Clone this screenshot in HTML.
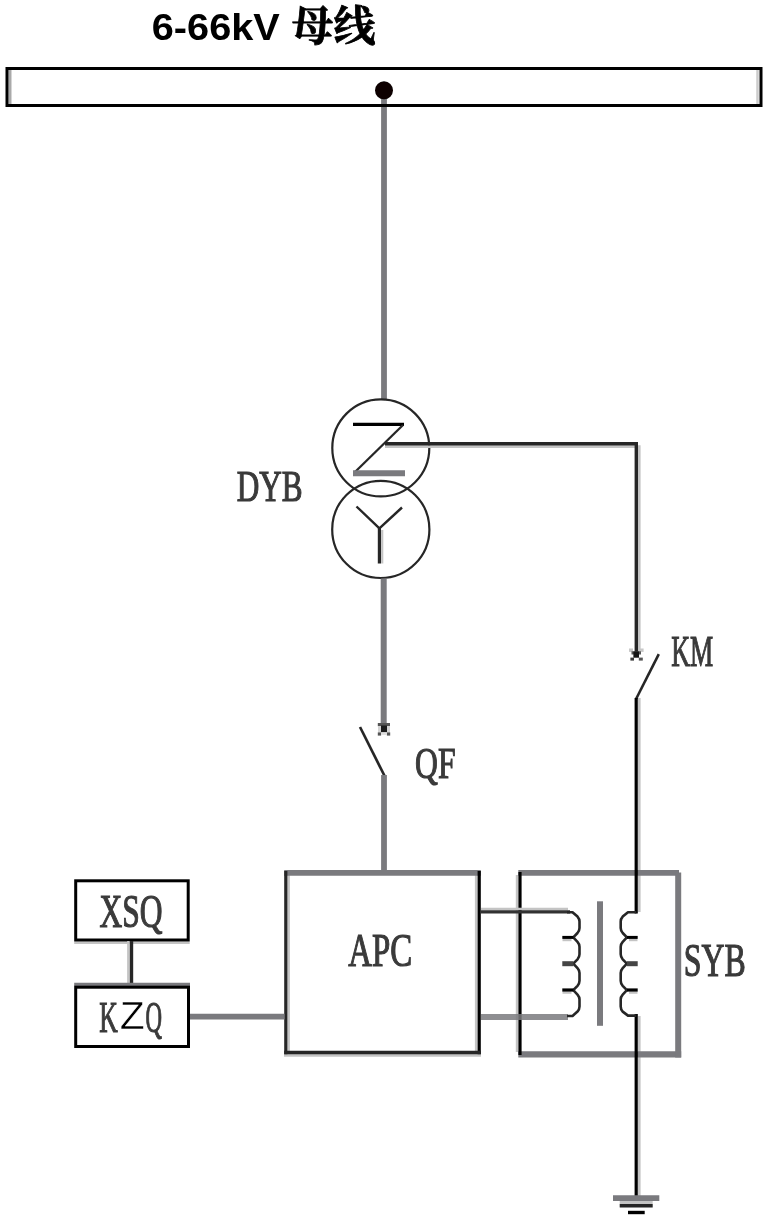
<!DOCTYPE html>
<html lang="zh">
<head>
<meta charset="utf-8">
<title>6-66kV 母线</title>
<style>
html,body{margin:0;padding:0;background:#fff;}
body{width:768px;height:1216px;overflow:hidden;position:relative;}
svg{position:absolute;left:0;top:0;display:block;}
.t{font-family:"Liberation Sans","Noto Sans CJK SC",sans-serif;font-weight:bold;fill:#000;}
.c{font-family:"Liberation Serif","Noto Serif CJK SC",serif;font-weight:bold;fill:#000;}
.l{font-family:"Liberation Serif","Noto Serif CJK SC",serif;fill:#3a3a3a;stroke:#3a3a3a;stroke-width:1.2;}
.g{stroke:#7a7a7e;fill:none;}
.d{stroke:#262626;fill:none;}
.k{stroke:#000;fill:none;}
.s{stroke:#c4c4c4;fill:none;}
</style>
</head>
<body>
<svg width="768" height="1216" viewBox="0 0 768 1216">
<defs>
<filter id="b" x="-5%" y="-5%" width="110%" height="110%"><feGaussianBlur stdDeviation="0.5"/></filter>
<filter id="a" x="-5%" y="-5%" width="110%" height="110%"><feGaussianBlur stdDeviation="0.3"/></filter>
</defs>
<rect width="768" height="1216" fill="#fff"/>

<!-- title -->
<g filter="url(#a)">
<text xml:space="preserve"><tspan class="t" x="151.8" y="40.3" font-size="37.2" textLength="128" lengthAdjust="spacingAndGlyphs">6-66kV</tspan><tspan class="t" font-size="8"> </tspan><tspan class="c" x="291.6" y="40.6" font-size="42" font-weight="900" stroke="#000" stroke-width="0.8" stroke-linejoin="round">母线</tspan></text>
</g>

<!-- bus bar -->
<g filter="url(#b)"><line class="g" x1="384" y1="95" x2="384" y2="399" stroke-width="5.8"/>
<circle cx="384" cy="90.3" r="9" fill="#0a0505"/></g>
<line x1="10" y1="70" x2="10" y2="104" stroke="#aaa" stroke-width="3"/>
<line x1="757.5" y1="70" x2="757.5" y2="104" stroke="#ccc" stroke-width="2.5"/>
<rect x="7" y="68.5" width="754" height="37" fill="none" stroke="#000" stroke-width="3"/>

<g filter="url(#b)">
<!-- main vertical -->
<!-- transformer DYB -->
<circle class="d" cx="380.8" cy="447.9" r="48.5" stroke-width="2.2"/>
<circle class="d" cx="380.8" cy="529.4" r="48.6" stroke-width="2.2"/>
<line class="k" x1="353" y1="424.4" x2="404" y2="424.4" stroke-width="3.2"/>
<line class="d" x1="403" y1="425" x2="355" y2="472" stroke-width="2.3"/>
<line class="g" x1="353" y1="473.2" x2="405" y2="473.2" stroke-width="6"/>
<path class="d" d="M356.5 506.5 L379.4 528.3 L402 507.5" stroke-width="2.4"/>
<line class="s" x1="382.2" y1="530" x2="382.2" y2="563.5" stroke-width="2.2"/>
<line class="d" x1="379.4" y1="528" x2="379.4" y2="563.5" stroke-width="3.2"/>

<!-- line from Z to right branch -->
<path class="s" d="M385 446.6 H639.3 V652" stroke-width="2.6"/>
<path class="d" d="M385 443.8 H636.3 V653" stroke-width="3.4" stroke-linejoin="miter"/>

<!-- KM switch -->
<rect x="629" y="648.5" width="4" height="3.4" fill="#c8c8c8"/>
<rect x="639.6" y="648.5" width="4" height="3.4" fill="#c8c8c8"/>
<rect x="631.5" y="651.3" width="9.5" height="3.2" fill="#555"/>
<rect x="633.4" y="651.5" width="5.6" height="6.2" fill="#161616"/>
<rect x="630.4" y="657.6" width="3.6" height="3" fill="#3c3c3c"/>
<rect x="638.8" y="657.6" width="4" height="3" fill="#555"/>
<line class="d" x1="658.8" y1="654.2" x2="636.3" y2="698.5" stroke-width="2.6"/>

<!-- below transformer to QF -->
<line class="g" x1="383.7" y1="578.5" x2="383.7" y2="725" stroke-width="6"/>
<rect x="377.8" y="723" width="12.2" height="3.2" fill="#555"/>
<rect x="378" y="726" width="3.2" height="6.4" fill="#d4d4d4"/>
<rect x="386.8" y="726" width="3.2" height="6.4" fill="#d4d4d4"/>
<rect x="381" y="725.5" width="6" height="6.8" fill="#1c1c1c"/>
<rect x="377.8" y="732.4" width="3.3" height="3.2" fill="#555"/>
<rect x="386.9" y="732.4" width="3.3" height="3.2" fill="#555"/>
<rect x="381.1" y="732.4" width="5.8" height="2.6" fill="#e0e0e0"/>
<line class="d" x1="360" y1="727" x2="384.6" y2="776" stroke-width="2.7"/>
<line class="g" x1="384" y1="775" x2="384" y2="871" stroke-width="5.8"/>

<!-- APC box -->
<rect x="284" y="870" width="197" height="185" fill="#fff"/>
<line class="s" x1="288.6" y1="875" x2="288.6" y2="1052" stroke-width="2.6"/>
<line class="s" x1="476.2" y1="875" x2="476.2" y2="1052" stroke-width="2.6"/>
<line class="s" x1="284" y1="1055.4" x2="481" y2="1055.4" stroke-width="2.6"/>
<line class="g" x1="284.2" y1="872.9" x2="480.8" y2="872.9" stroke-width="5.8"/>
<line class="d" x1="285.8" y1="871" x2="285.8" y2="1054.2" stroke-width="3.2"/>
<line class="k" x1="479.2" y1="871" x2="479.2" y2="1054.2" stroke-width="3.2"/>
<line class="d" x1="284.2" y1="1052.5" x2="480.8" y2="1052.5" stroke-width="3.4"/>

<!-- XSQ / KZQ -->
<line class="s" x1="74.2" y1="942.7" x2="189.7" y2="942.7" stroke-width="2.6"/>
<rect x="75.7" y="880.8" width="112.5" height="59.2" fill="#fff" stroke="#000" stroke-width="3"/>
<line class="s" x1="128.4" y1="941" x2="128.4" y2="986" stroke-width="2.6"/>
<line class="d" x1="131.5" y1="941" x2="131.5" y2="986" stroke-width="3.4"/>
<line class="g" x1="74.2" y1="984.3" x2="190" y2="984.3" stroke-width="3.2"/>
<rect x="75.7" y="987.2" width="112.8" height="59.3" fill="#fff" stroke="#000" stroke-width="3"/>
<line class="g" x1="190" y1="1016.6" x2="284.5" y2="1016.6" stroke-width="5.8"/>

<path class="s" d="M639.3 698 V912 M639.3 1016 V1197" stroke-width="2.6"/>
<!-- SYB box -->
<line class="s" x1="517" y1="875" x2="517" y2="1052" stroke-width="2.4"/>
<line class="g" x1="518.3" y1="872.9" x2="679" y2="872.9" stroke-width="5.8"/>
<line class="g" x1="518.3" y1="1054.4" x2="681.2" y2="1054.4" stroke-width="6.2"/>
<line class="g" x1="678.2" y1="872.6" x2="678.2" y2="1057.5" stroke-width="6"/>
<line class="k" x1="520" y1="872" x2="520" y2="1055" stroke-width="3.2"/>

<path class="k" d="M636.2 698 V913.5 M636.2 1014 V1197" stroke-width="3.2"/>

<!-- APC to coil connectors -->
<line class="s" x1="481" y1="909" x2="568" y2="909" stroke-width="2.6"/>
<line stroke="#303030" x1="481" y1="911.9" x2="570" y2="911.9" stroke-width="3.1"/>

<line class="g" x1="481" y1="1017" x2="568" y2="1017" stroke-width="5.8" opacity="0.85"/>

<!-- core -->
<line class="g" x1="600" y1="901.3" x2="600" y2="1025.8" stroke-width="6"/>

<!-- left coil -->
<path class="d" stroke-width="2.6" stroke-linejoin="round" d="M567 912.2 H572.5 L577.5 916.6 Q579.5 918.8 579.5 921.6 V928.0 Q579.5 930.8 577.5 933.0 L573.3 937.4 L577.5 941.8 Q579.5 944.0 579.5 946.8 V954.3 Q579.5 957.1 577.5 959.3 L573.3 963.7 L577.5 968.1 Q579.5 970.3 579.5 973.1 V980.8 Q579.5 983.6 577.5 985.8 L573.3 990.2 L577.5 994.6 Q579.5 996.8 579.5 999.6 V1006.6 Q579.5 1009.4 577.5 1011.6 L572.5 1016 H567"/>
<path class="s" stroke-width="2.4" d="M562.5 940 H571.5"/>
<path class="k" stroke-width="3" d="M562.3 937.4 H573.5"/>
<path stroke="#444" fill="none" stroke-width="5" d="M562.3 963.7 H573.5"/>
<path class="s" stroke-width="2.4" d="M562.5 992.6 H571.5"/>
<path class="k" stroke-width="3.2" d="M562.3 990 H573.5"/>

<!-- right coil -->
<path class="d" stroke-width="2.6" stroke-linejoin="round" d="M636.3 912.2 H628 L622.7 916.6 Q620.7 918.8 620.7 921.6 V928.0 Q620.7 930.8 622.7 933.0 L626.9 937.4 L622.7 941.8 Q620.7 944.0 620.7 946.8 V954.3 Q620.7 957.1 622.7 959.3 L626.9 963.7 L622.7 968.1 Q620.7 970.3 620.7 973.1 V980.8 Q620.7 983.6 622.7 985.8 L626.9 990.2 L622.7 994.6 Q620.7 996.8 620.7 999.6 V1006.6 Q620.7 1009.4 622.7 1011.6 L628 1015.6 H636.3"/>
<path class="s" stroke-width="2.4" d="M629 940 H637.5"/>
<path class="k" stroke-width="3" d="M627 937.4 H637.7"/>
<path stroke="#444" fill="none" stroke-width="5" d="M627 963.7 H637.7"/>
<path class="s" stroke-width="2.4" d="M629 992.6 H637.5"/>
<path class="k" stroke-width="3.2" d="M627 990 H637.7"/>

<!-- ground -->
<line class="g" x1="613" y1="1198.1" x2="659.3" y2="1198.1" stroke-width="5.8"/>
<line class="s" x1="619.7" y1="1202.5" x2="652.7" y2="1202.5" stroke-width="3"/>
<line class="d" x1="619.7" y1="1205.8" x2="652.7" y2="1205.8" stroke-width="3.6"/>
<line class="k" x1="628" y1="1212.5" x2="644.7" y2="1212.5" stroke-width="3.4"/>

<!-- labels -->
<text class="l" x="236.7" y="500.8" font-size="45" textLength="66" lengthAdjust="spacingAndGlyphs">DYB</text>
<text class="l" x="671.3" y="666.3" font-size="45" textLength="42" lengthAdjust="spacingAndGlyphs">KM</text>
<text class="l" x="415" y="777.5" font-size="44" textLength="40.5" lengthAdjust="spacingAndGlyphs">QF</text>
<text class="l" x="99.6" y="927.3" font-size="46" textLength="63" lengthAdjust="spacingAndGlyphs">XSQ</text>
<text class="l" font-size="45"><tspan x="99.2" y="1031.7" textLength="18.5" lengthAdjust="spacingAndGlyphs">K</tspan><tspan x="119.8" y="1029.4" font-size="39.5" textLength="25" lengthAdjust="spacingAndGlyphs" style="font-family:'Liberation Sans',sans-serif;fill:#000;stroke:#fff;stroke-width:0.5;">Z</tspan><tspan x="145.5" y="1031.7" textLength="16.5" lengthAdjust="spacingAndGlyphs">Q</tspan></text>
<text class="l" x="348.3" y="965.8" font-size="46" textLength="64" lengthAdjust="spacingAndGlyphs">APC</text>
<text class="l" x="683.7" y="975.8" font-size="46" textLength="62" lengthAdjust="spacingAndGlyphs">SYB</text>
</g>
</svg>
</body>
</html>
